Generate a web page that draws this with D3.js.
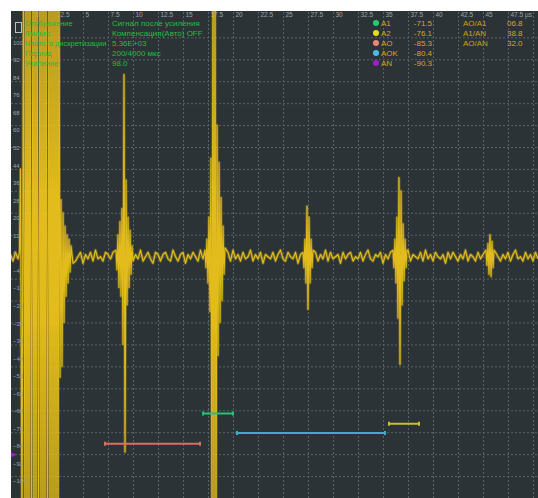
<!DOCTYPE html>
<html>
<head>
<meta charset="utf-8">
<script src="https://cdn.jsdelivr.net/npm/d3@7"></script>
<style>
  html, body { margin: 0; padding: 0; background: #ffffff; }
  svg { display: block; font-family: "Liberation Sans", "DejaVu Sans", Arial, sans-serif; }
</style>
</head>
<body>
<svg id="scope" width="538" height="498"></svg>
<script>
// ---- A-scan data (time in µs, amplitude in % of screen height) ----

// time axis ticks (the last grid line at 50 µs carries no label)
const timeTicks = [0, 2.5, 5, 7.5, 10, 12.5, 15, 17.5, 20, 22.5, 25, 27.5, 30, 32.5, 35, 37.5, 40, 42.5, 45, 47.5, 50];
const timeTickText = ["0", "2.5", "5", "7.5", "10", "12.5", "15", "17.5", "20", "22.5", "25", "27.5", "30", "32.5", "35", "37.5", "40", "42.5", "45", "47.5 µs", ""];

// amplitude grid lines and amplitude labels
const ampGrid = [100, 90, 80, 70, 60, 50, 40, 30, 20, 10, 0, -10, -20, -30, -40, -50, -60, -70, -80, -90, -100];
const ampLabels = [100, 92, 84, 76, 68, 60, 52, 44, 36, 28, 20, 12, 4, -4, -12, -20, -28, -36, -44, -52, -60, -68, -76, -84, -92, -100];

// background noise, sampled every 0.25 µs starting at -2.25 µs
const noiseStart = -2.25;
const noiseStep = 0.25;
const noise = [
   1, -2,  2, -1,  3, -2,  1, -3,  2,  0, -2,  1,  3, -1, -2,  2, -3,  1,  2, -1,
   0,  2, -2,  1, -1,  3, -2,  0,  2, -3,  1, -1,  2, -2,  3, -1,  0, -2,  2,  1,
  -1,  2, -3,  1,  0, -2,  3, -1,  2, -2,  1, -1,  3, -2,  0,  2, -1, -3,  2,  1,
  -2,  1,  2, -1, -2,  3,  0, -2,  1,  2, -3,  1, -1,  2,  0, -2,  3, -1,  1, -2,
   2, -1,  1, -3,  2,  0, -1,  2, -2,  3, -1,  1, -2,  2, -1,  0,  3, -2,  1, -1,
   2, -3,  1,  0, -1,  2, -2,  1,  3, -1, -2,  2,  0, -1,  2, -3,  1,  1, -2,  2,
  -1,  0,  2, -2,  1, -1,  3, -2,  2, -1,  0,  1, -3,  2, -1,  1,  2, -2,  0, -1,
   2, -2,  1,  3, -1, -2,  1,  0,  2, -3,  1, -1,  2, -1,  0,  2, -2,  1, -1,  3,
  -2,  1,  0, -1,  2, -2,  3, -1,  1, -2,  2,  0, -1,  1, -3,  2, -1,  2,  0, -2,
   1, -1,  3, -2,  1,  0, -2,  2, -1,  1,  2, -3,  1, -1,  2,  0, -2,  1, -1,  2,
  -2,  1,  3, -1,  0, -2,  2, -1,  1, -2,  2, -1
];

// initial (probe) pulse: saturated ringing, then decay
const pulseTimes = [-1.35, -1.25, -1.1, -0.95, -0.8, -0.7, -0.6, -0.5, -0.4, -0.3, -0.15, 0.0, 0.1, 0.2, 0.3, 0.4,
                    0.55, 0.7, 0.8, 0.9, 1.0, 1.1, 1.2, 1.3, 1.45, 1.6, 1.7, 1.8, 1.9, 2.0, 2.1, 2.2, 2.3, 2.4, 2.5, 2.6,
                    2.7, 2.8, 2.9, 3.0, 3.1, 3.2, 3.3, 3.4, 3.5, 3.6, 3.7, 3.8, 4.0];
const pulseAmps  = [2, 40, -130, 130, -130, 130, -130, 130, -130, 130, -130, 130, -130, 130, -130, 130,
                    -130, 130, -130, 130, -130, 130, -130, 130, -130, 130, -130, 130, -130, 130, -130, 130, -130, 130, -130, 130,
                    -55, 26, -50, 20, -30, 14, -18, 10, -12, 8, -7, 5, -3];

// reflected echoes, sampled every 0.1 µs from each start time
const echoStep = 0.1;
const echoStarts = [8.3, 17.2, 27.0, 36.0, 45.3];
const echo1 = [3, -6, 10, -14, 16, -18, 22, -40, 83, -89, 35, -22, 18, -14, 12, -8, 5];
const echo2 = [3, -5, 8, -12, 18, -25, 45, -130, 130, -130, 130, -130, 60, -45, 43, -30, 27, -20, 14, -8, 4];
const echo3 = [2, -5, 8, -12, 23, -24, 18, -12, 8, -5, 3];
const echo4 = [3, -5, 8, -12, 18, -28, 36, -49, 30, -22, 15, -11, 8, -5, 3];
const echo5 = [3, -4, 6, -8, 10, -9, 7, -5, 3];
const echoAmps = [echo1, echo2, echo3, echo4, echo5];

// gates
const gateNames  = ["A1", "A2", "AO", "AOK"];
const gateColors = ["#1fd26c", "#e4dc22", "#ef8577", "#46bfe6"];
const gateLineColors = ["#22c479", "#c9bd33", "#d9705f", "#41a9c9"];
const gateStart  = [17.0, 35.6, 7.2, 20.4];
const gateEnd    = [20.0, 38.6, 16.7, 35.2];
const gateLevel  = [-71.5, -76.1, -85.3, -80.4];
const noiseLevelName = "AN";
const noiseLevelColor = "#9b1fc4";
const noiseLevel = -90.3;

// gate ratios
const ratioNames  = ["AO/A1", "A1/AN", "AO/AN"];
const ratioValues = ["06.8", "38.8", "32.0"];

// acquisition settings
const infoLabels = ["Отображение", "Фильтр", "Частота дискретизации", "Период", "Усиление"];
const infoValues = ["Сигнал после усиления", "Компенсация(Авто) OFF", "5.36E+03", "200/4000 мкс", "98.0"];

// ---- drawing ----
const svg = d3.select("#scope");
const plot = { left: 11, top: 11, right: 538, bottom: 498 };
const pw = plot.right - plot.left, ph = plot.bottom - plot.top;

const x = d3.scaleLinear().domain([-2.2, 50.5]).range([plot.left, plot.right]);
const y = d3.scaleLinear().domain([-110, 112]).range([plot.bottom, plot.top]);

svg.append("defs").append("clipPath").attr("id", "plotClip")
  .append("rect").attr("x", plot.left).attr("y", plot.top).attr("width", pw).attr("height", ph);

svg.append("rect")
  .attr("x", plot.left).attr("y", plot.top).attr("width", pw).attr("height", ph)
  .attr("fill", "#2c3337");

// grid
const gridColor = "#596267";
const gxGrid = svg.append("g")
  .attr("transform", `translate(0,${plot.bottom})`)
  .call(d3.axisBottom(x).tickValues(timeTicks).tickSize(-ph).tickFormat(""));
gxGrid.select(".domain").remove();
gxGrid.selectAll("line").attr("stroke", gridColor).attr("stroke-dasharray", "2,2");

const gyGrid = svg.append("g")
  .attr("transform", `translate(${plot.left},0)`)
  .call(d3.axisLeft(y).tickValues(ampGrid).tickSize(-pw).tickFormat(""));
gyGrid.select(".domain").remove();
gyGrid.selectAll("line").attr("stroke", gridColor).attr("stroke-dasharray", "2,2");

// time labels along the top
const gxLab = svg.append("g")
  .attr("transform", `translate(0,${plot.top})`)
  .call(d3.axisBottom(x).tickValues(timeTicks).tickSize(0).tickPadding(0)
        .tickFormat((d, i) => timeTickText[i]));
gxLab.select(".domain").remove();
gxLab.selectAll("text")
  .attr("text-anchor", "start").attr("dx", 2).attr("y", 1.5)
  .attr("fill", "#9aa2a6").style("font-size", "6.5px").style("font-family", "inherit");

// trace
const windows = [[pulseTimes[0], pulseTimes[pulseTimes.length - 1]]];
const pts = pulseTimes.map((t, i) => [t, pulseAmps[i]]);
echoStarts.forEach((s, k) => {
  const a = echoAmps[k];
  a.forEach((v, i) => pts.push([s + i * echoStep, v]));
  windows.push([s, s + (a.length - 1) * echoStep]);
});
noise.forEach((v, i) => {
  const t = noiseStart + i * noiseStep;
  if (!windows.some(w => t >= w[0] - 0.05 && t <= w[1] + 0.05)) pts.push([t, v]);
});
pts.sort((a, b) => a[0] - b[0]);

const line = d3.line().x(d => x(d[0])).y(d => y(d[1]));
const traceG = svg.append("g").attr("clip-path", "url(#plotClip)");
traceG.append("path").datum(pts).attr("d", line)
  .attr("fill", "none").attr("stroke", "#a8921c").attr("stroke-opacity", 0.45)
  .attr("stroke-width", 3).attr("stroke-linejoin", "round");
traceG.append("path").datum(pts).attr("d", line)
  .attr("fill", "none").attr("stroke", "#f0c51b").attr("stroke-opacity", 0.9)
  .attr("stroke-width", 1.2).attr("stroke-linejoin", "round");

// gates
gateNames.forEach((g, i) => {
  const x1 = x(gateStart[i]), x2 = x(gateEnd[i]), gy = y(gateLevel[i]);
  svg.append("path")
    .attr("d", `M${x1},${gy - 2}V${gy + 2}M${x1},${gy}H${x2}M${x2},${gy - 2}V${gy + 2}`)
    .attr("stroke", gateLineColors[i]).attr("stroke-width", 2).attr("fill", "none");
});

// noise-level marker on the left edge
const any = y(noiseLevel);
svg.append("path")
  .attr("d", `M${plot.left},${any - 2.5}L${plot.left + 6},${any}L${plot.left},${any + 2.5}Z`)
  .attr("fill", noiseLevelColor);

// amplitude labels
const gyLab = svg.append("g")
  .attr("transform", `translate(${plot.left},0)`)
  .call(d3.axisRight(y).tickValues(ampLabels).tickSize(0).tickPadding(2));
gyLab.select(".domain").remove();
gyLab.selectAll("text")
  .attr("y", 5).attr("fill", "#9aa2a6")
  .style("font-size", "6px").style("font-family", "inherit");

// small frame icon, top-left
svg.append("rect").attr("x", 15.5).attr("y", 22.5).attr("width", 6).attr("height", 10)
  .attr("fill", "none").attr("stroke", "#b9bfc3").attr("stroke-width", 1);

// settings block
const infoG = svg.append("g").attr("fill", "#1fbf3c");
infoLabels.forEach((t, i) => {
  infoG.append("text").attr("x", 25).attr("y", 26 + i * 10)
    .style("font-size", "7.5px").text(t);
  infoG.append("text").attr("x", 112).attr("y", 26 + i * 10)
    .style("font-size", "8px").text(infoValues[i]);
});

// gate legend
const legNames = gateNames.concat([noiseLevelName]);
const legColors = gateColors.concat([noiseLevelColor]);
const legValues = gateLevel.concat([noiseLevel]);
const legG = svg.append("g").style("font-size", "8px");
legNames.forEach((n, i) => {
  const ry = 23 + i * 10;
  legG.append("circle").attr("cx", 376).attr("cy", ry).attr("r", 3).attr("fill", legColors[i]);
  legG.append("text").attr("x", 381).attr("y", ry + 3).attr("fill", "#d6a51f").text(n);
  legG.append("text").attr("x", 432).attr("y", ry + 3).attr("text-anchor", "end")
    .attr("fill", "#d9a126").text(legValues[i].toFixed(1));
});
ratioNames.forEach((n, i) => {
  const ry = 23 + i * 10;
  legG.append("text").attr("x", 463).attr("y", ry + 3).attr("fill", "#cf9d22").text(n);
  legG.append("text").attr("x", 507).attr("y", ry + 3).attr("fill", "#d9a126").text(ratioValues[i]);
});
</script>
</body>
</html>
